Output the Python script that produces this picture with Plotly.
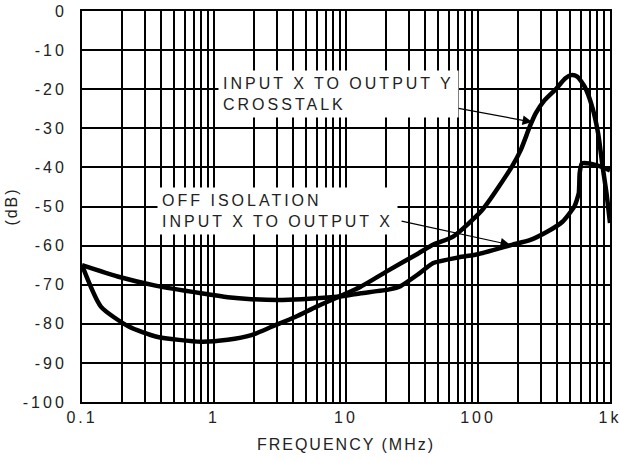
import plotly.graph_objects as go

# ---- data ----
xt_freq = [0.1, 0.139, 0.226, 0.368, 0.80, 1.27, 1.92, 2.76, 4.16, 5.98, 9.5, 12.9,
           21.3, 35.3, 45.5, 64.7, 107.6, 180.6, 211, 246.6, 273.6, 319.6, 393.3,
           459.4, 509.6, 565, 644, 732.8, 813, 879, 940, 1000]
xt_db = [-65.0, -75.6, -80.7, -83.3, -84.6, -84.1, -82.9, -80.7, -78.2, -75.6, -72.6,
         -70.5, -66.2, -62.0, -59.8, -57.7, -50.9, -39.8, -35.5, -29.6, -26.2, -22.8,
         -19.8, -17.2, -16.4, -16.8, -19.4, -24.5, -31.3, -39.8, -46.5, -54.2]

iso_freq = [0.1, 0.186, 0.368, 0.80, 1.27, 1.92, 3.06, 4.62, 7.72, 10, 12.9, 21.3,
            26.1, 35.3, 45.5, 71.7, 100, 180.6, 246.6, 336.5, 436.5, 537, 580, 589,
            611, 696, 856, 1000]
iso_db = [-65.0, -67.9, -70.3, -72.2, -73.2, -73.7, -73.9, -73.7, -73.2, -72.8, -72.2,
          -71.2, -70.3, -67.3, -64.5, -63.0, -62.2, -59.8, -58.6, -56.4, -53.9, -50.0,
          -46.6, -41.5, -39.0, -39.0, -39.8, -40.8]

x_major = [0.1, 1, 10, 100, 1000]
x_major_labels = ["0.1", "1", "10", "100", "1k"]
y_ticks = [0, -10, -20, -30, -40, -50, -60, -70, -80, -90, -100]

FONT = "Liberation Sans, Arial, Helvetica, sans-serif"


def spaced(s, sp=3):
    return f'<span style="letter-spacing:{sp}px">{s}</span>'


# grid positions for log axis (1..9 multiples per decade)
x_tickvals, x_ticktext = [], []
for d in [0.1, 1, 10, 100]:
    for m in range(1, 10):
        v = round(d * m, 6)
        x_tickvals.append(v)
        x_ticktext.append(spaced(x_major_labels[x_major.index(v)]) if v in x_major else "")
x_tickvals.append(1000)
x_ticktext.append(spaced("1k"))

fig = go.Figure()
fig.add_trace(go.Scatter(x=xt_freq, y=xt_db, mode="lines",
                         line=dict(color="black", width=4.5, shape="spline", smoothing=0.6),
                         showlegend=False, hoverinfo="skip"))
fig.add_trace(go.Scatter(x=iso_freq, y=iso_db, mode="lines",
                         line=dict(color="black", width=4.5, shape="spline", smoothing=0.5),
                         showlegend=False, hoverinfo="skip"))

fig.update_layout(
    width=620, height=462,
    margin=dict(l=82, r=10, t=11, b=60, autoexpand=False),
    paper_bgcolor="white", plot_bgcolor="white",
    font=dict(family=FONT, size=16, color="#222"),
    showlegend=False,
)
fig.update_xaxes(
    type="log", range=[-1, 3], automargin=False,
    tickmode="array", tickvals=x_tickvals, ticktext=x_ticktext,
    ticklabeloverflow="allow",
    showgrid=True, gridcolor="black", gridwidth=2,
    showline=True, linecolor="black", linewidth=2, mirror=True,
    ticks="", ticklabelstandoff=0,
    tickfont=dict(size=16),
    title=dict(text=spaced("FREQUENCY (MHz)", 2), standoff=14, font=dict(size=16)),
    zeroline=False,
)
fig.update_yaxes(
    range=[-100, 0], automargin=False,
    tickmode="array", tickvals=y_ticks,
    ticktext=[spaced(str(v)) for v in y_ticks],
    ticklabeloverflow="allow",
    showgrid=True, gridcolor="black", gridwidth=2,
    showline=True, linecolor="black", linewidth=2, mirror=True,
    ticks="", ticklabelstandoff=10,
    tickfont=dict(size=16),
    title=dict(text=spaced("(dB)", 2), standoff=1, font=dict(size=16)),
    zeroline=False,
)

# text labels with white background
fig.add_annotation(xref="paper", yref="paper", x=0.2576, y=0.788,
                   xanchor="left", yanchor="middle", align="left", showarrow=False,
                   text=spaced("INPUT X TO OUTPUT Y") + "<br>" + spaced("CROSSTALK"),
                   bgcolor="white", borderpad=4, font=dict(size=16, color="#222"))
fig.add_annotation(xref="paper", yref="paper", x=0.142, y=0.4885,
                   xanchor="left", yanchor="middle", align="left", showarrow=False,
                   text=spaced("OFF ISOLATION") + "<br>" + spaced("INPUT X TO OUTPUT X"),
                   bgcolor="white", borderpad=4, font=dict(size=16, color="#222"))

# arrows pointing at the curves
fig.add_annotation(x=2.41, y=-28.4, xref="x", yref="y", axref="pixel", ayref="pixel",
                   ax=-75, ay=-14, text="", showarrow=True, arrowhead=2,
                   arrowsize=1.6, arrowwidth=1.2, arrowcolor="black")
fig.add_annotation(x=2.243, y=-59.8, xref="x", yref="y", axref="pixel", ayref="pixel",
                   ax=-110, ay=-24, text="", showarrow=True, arrowhead=2,
                   arrowsize=1.6, arrowwidth=1.2, arrowcolor="black")

fig.write_html("out.html")
